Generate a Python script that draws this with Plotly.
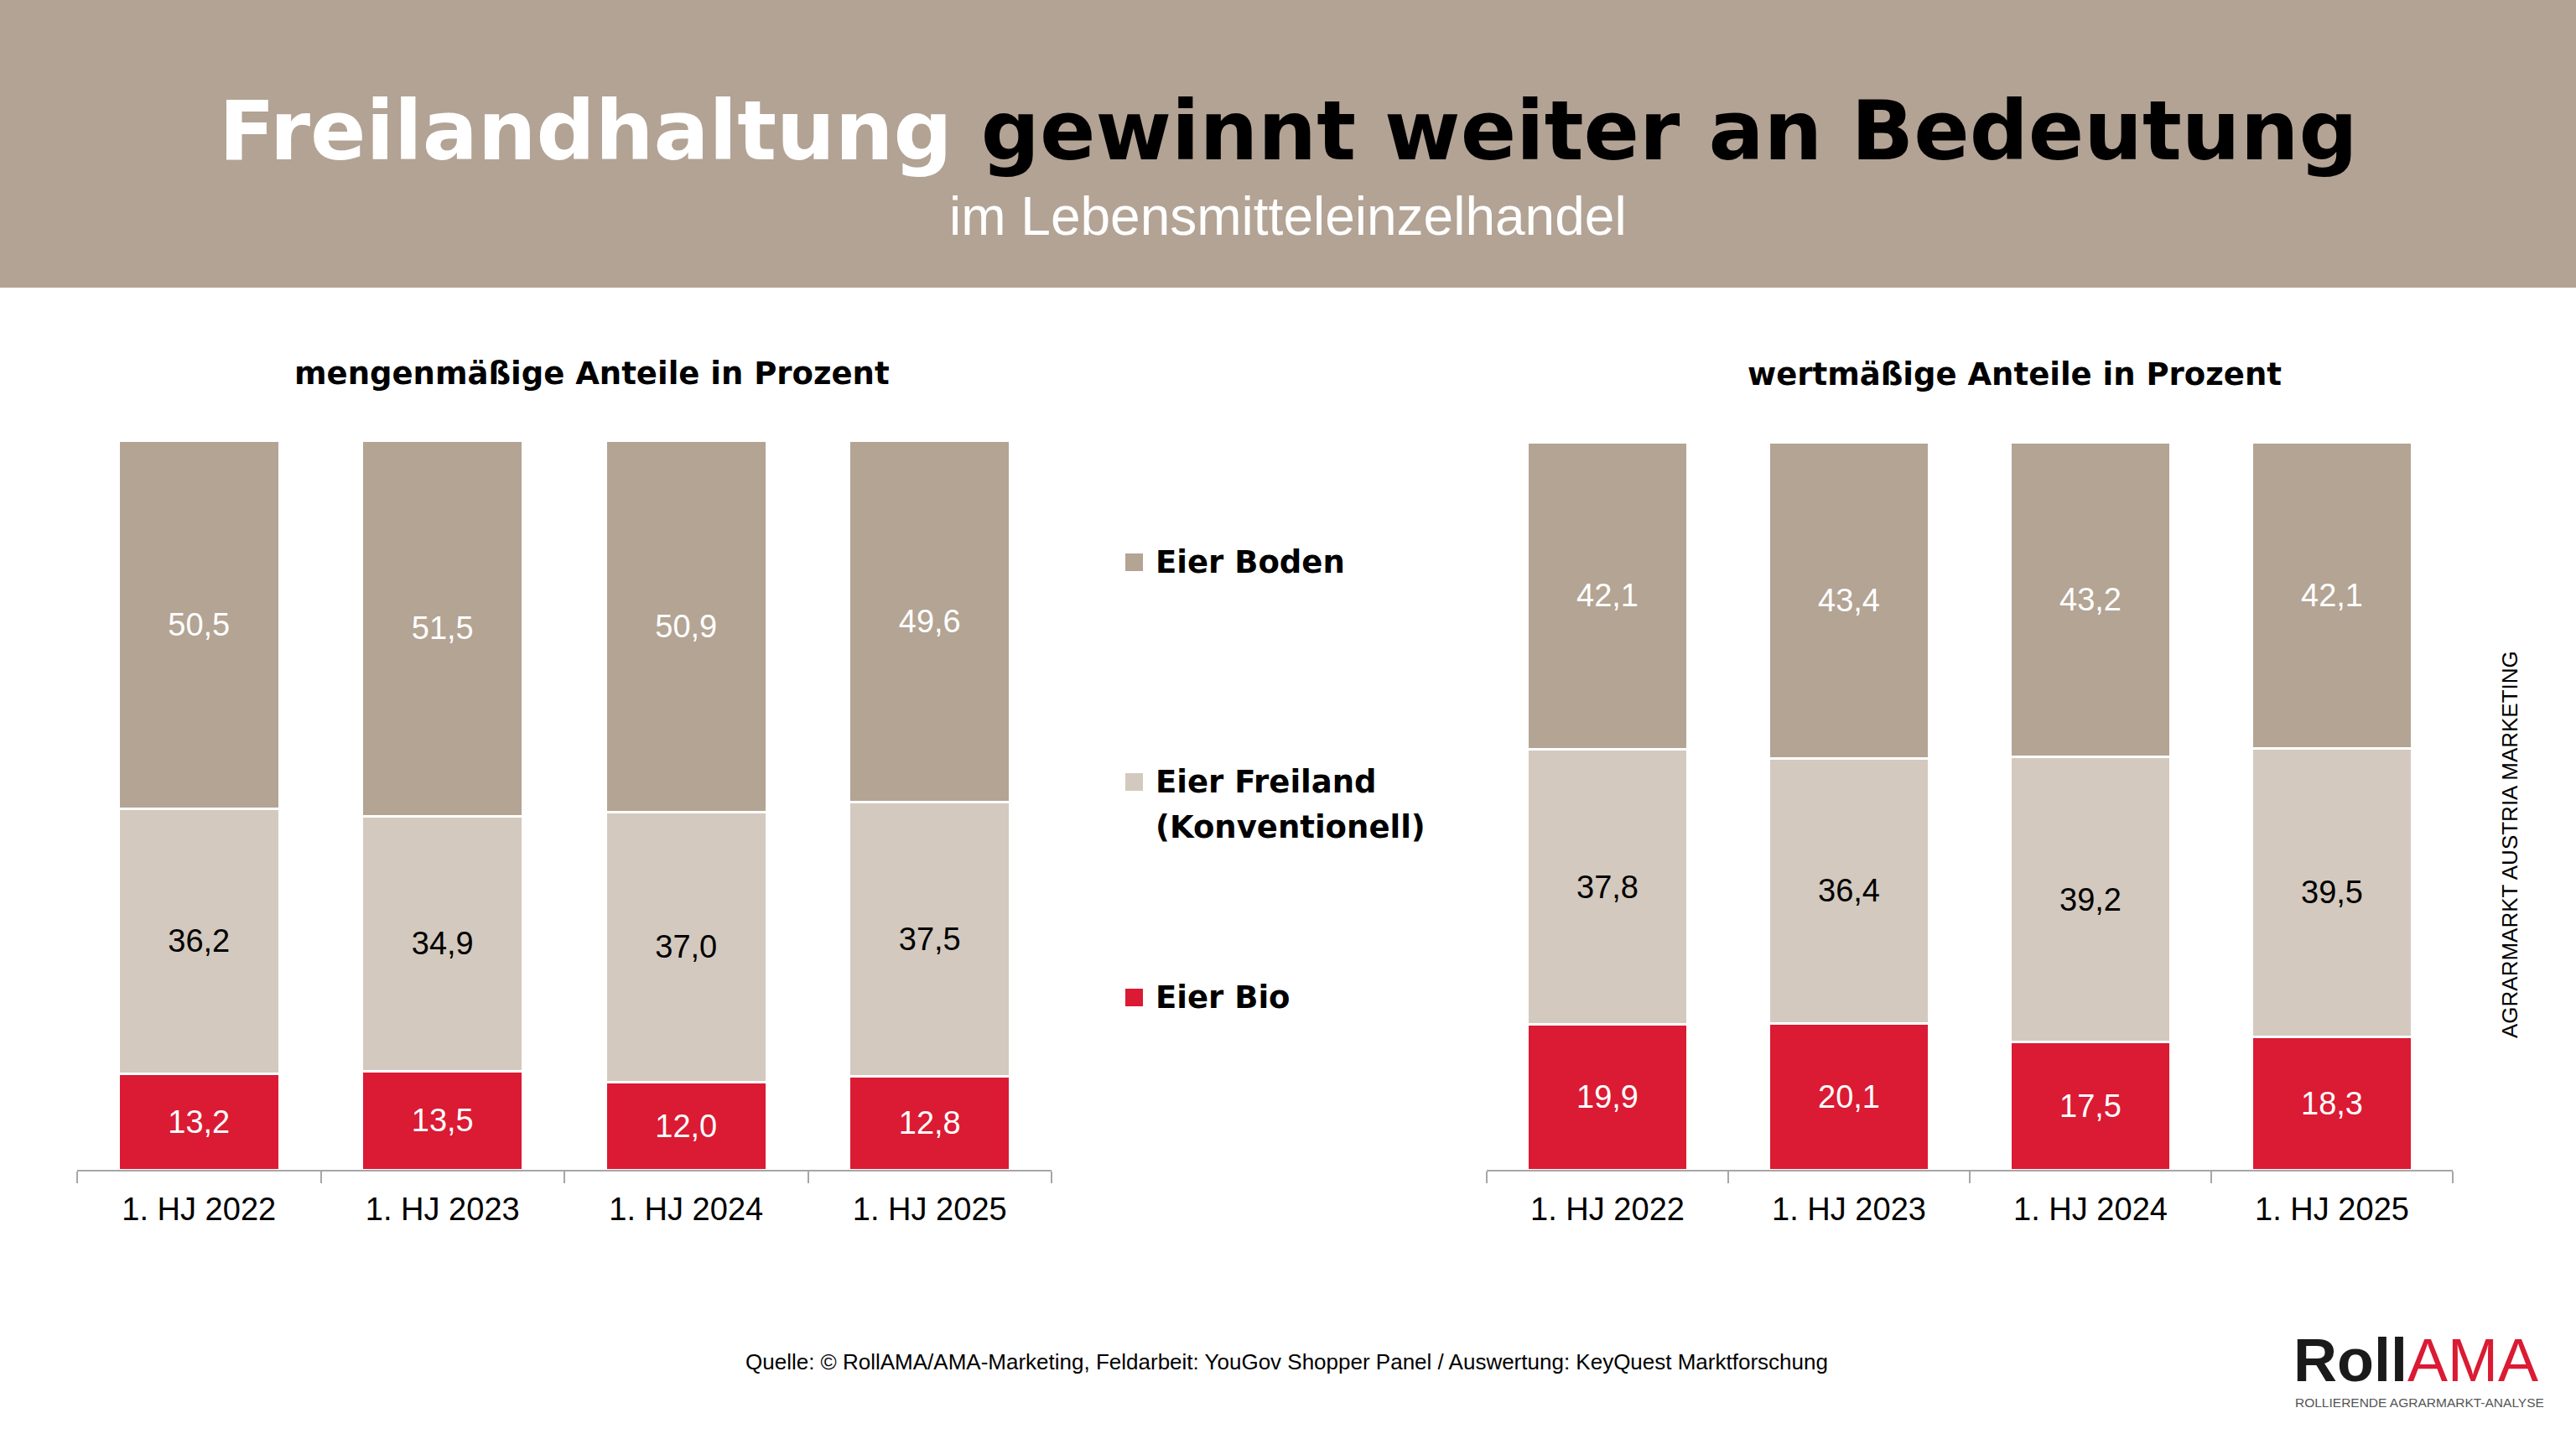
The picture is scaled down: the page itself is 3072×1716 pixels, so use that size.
import plotly.graph_objects as go

# ---------------- data ----------------
periods = ["1. HJ 2022", "1. HJ 2023", "1. HJ 2024", "1. HJ 2025"]
series_names = ["Eier Bio", "Eier Freiland (Konventionell)", "Eier Boden"]

menge_bio = [13.2, 13.5, 12.0, 12.8]
menge_freiland = [36.2, 34.9, 37.0, 37.5]
menge_boden = [50.5, 51.5, 50.9, 49.6]

wert_bio = [19.9, 20.1, 17.5, 18.3]
wert_freiland = [37.8, 36.4, 39.2, 39.5]
wert_boden = [42.1, 43.4, 43.2, 42.1]

# ---------------- style ----------------
W, H = 3072, 1716
C_BODEN = "#B3A494"
C_FREI = "#D3C9BE"
C_BIO = "#DB1A33"
C_HEADER = "#B3A394"
AXIS_C = "#A6A6A6"
FONT = "Liberation Sans"
BOLD = "DejaVu Sans"


def px(x):
    return x / W


def py(y):
    return 1 - y / H


def fmt(vals):
    return [f"{v:.1f}".replace(".", ",") for v in vals]


fig = go.Figure()

charts = [
    ("x", "y", [menge_bio, menge_freiland, menge_boden]),
    ("x2", "y2", [wert_bio, wert_freiland, wert_boden]),
]
colors = [C_BIO, C_FREI, C_BODEN]
text_colors = ["white", "black", "white"]

for xa, ya, series in charts:
    for vals, name, col, tcol in zip(series, series_names, colors, text_colors):
        fig.add_trace(go.Bar(
            x=periods, y=vals, name=name, xaxis=xa, yaxis=ya,
            marker=dict(color=col, line=dict(color="white", width=3)),
            text=fmt(vals), textposition="inside", insidetextanchor="middle",
            textfont=dict(family=FONT, size=38, color=tcol),
            constraintext="none",
            showlegend=False, hoverinfo="skip",
        ))

axis_common = dict(
    type="category", range=[-0.5, 3.5], showline=True, linecolor=AXIS_C,
    linewidth=2, ticks="outside", tickson="boundaries", ticklen=14,
    tickcolor=AXIS_C, tickwidth=2, showgrid=False, zeroline=False,
    ticklabelstandoff=12,
    tickfont=dict(family=FONT, size=38, color="black"),
)
yaxis_common = dict(range=[0, 100], visible=False, fixedrange=True)

fig.update_layout(
    width=W, height=H,
    margin=dict(l=0, r=0, t=0, b=0),
    paper_bgcolor="white", plot_bgcolor="white",
    barmode="stack", barnorm="percent", bargap=0.34,
    xaxis=dict(domain=[px(92), px(1254)], anchor="y", **axis_common),
    yaxis=dict(domain=[py(1395), py(525)], anchor="x", **yaxis_common),
    xaxis2=dict(domain=[px(1773), px(2925)], anchor="y2", **axis_common),
    yaxis2=dict(domain=[py(1395), py(527)], anchor="x2", **yaxis_common),
)

shapes = [
    dict(type="rect", xref="paper", yref="paper", x0=0, x1=1, y0=py(343), y1=1,
         fillcolor=C_HEADER, line=dict(width=0), layer="below"),
]

annotations = [
    dict(text="<span style='color:white'>Freilandhaltung</span> gewinnt weiter an Bedeutung",
         x=0.5, y=py(156), xanchor="center", yanchor="middle",
         font=dict(family=BOLD, size=98, color="black", weight="bold")),
    dict(text="im Lebensmitteleinzelhandel", x=0.5, y=py(258), xanchor="center",
         yanchor="middle", font=dict(family=FONT, size=64, color="white")),
    dict(text="<b>mengenmäßige Anteile in Prozent</b>", x=px(706), y=py(445),
         xanchor="center", yanchor="middle", font=dict(family=BOLD, size=37, color="black")),
    dict(text="<b>wertmäßige Anteile in Prozent</b>", x=px(2402), y=py(447),
         xanchor="center", yanchor="middle", font=dict(family=BOLD, size=37, color="black")),
    dict(text="AGRARMARKT AUSTRIA MARKETING", x=px(2993), y=py(1007), textangle=-90,
         xanchor="center", yanchor="middle", font=dict(family=FONT, size=26, color="black")),
    dict(text="Quelle: © RollAMA/AMA-Marketing, Feldarbeit: YouGov Shopper Panel / Auswertung: KeyQuest Marktforschung",
         x=px(1534), y=py(1624), xanchor="center", yanchor="middle",
         font=dict(family=FONT, size=26, color="black")),
    dict(text="<b>Roll</b><span style='color:#DB1A33'>AMA</span>", x=px(2733), y=py(1664),
         xanchor="left", yanchor="bottom", font=dict(family=FONT, size=72, color="#1A1A1A")),
    dict(text="ROLLIERENDE AGRARMARKT-ANALYSE", x=px(2735), y=py(1662),
         xanchor="left", yanchor="top", font=dict(family=FONT, size=15.5, color="#555555")),
]

# legend built from series names/colours
legend_rows = [
    (series_names[2], C_BODEN, [670]),
    (series_names[1], C_FREI, [932, 986]),
    (series_names[0], C_BIO, [1189]),
]
for name, col, ys in legend_rows:
    shapes.append(dict(type="rect", xref="paper", yref="paper",
                       x0=px(1342), x1=px(1363), y0=py(ys[0] + 11), y1=py(ys[0] - 10),
                       fillcolor=col, line=dict(width=0)))
    if len(ys) == 1:
        parts = [name]
    else:
        parts = ["Eier Freiland", "(Konventionell)"]
    for part, yy in zip(parts, ys):
        annotations.append(dict(text=f"<b>{part}</b>", x=px(1376), y=py(yy),
                                xanchor="left", yanchor="middle",
                                font=dict(family=BOLD, size=37, color="black")))

for a in annotations:
    a.update(xref="paper", yref="paper", showarrow=False)

fig.update_layout(shapes=shapes, annotations=annotations)

fig.write_html("out.html")
